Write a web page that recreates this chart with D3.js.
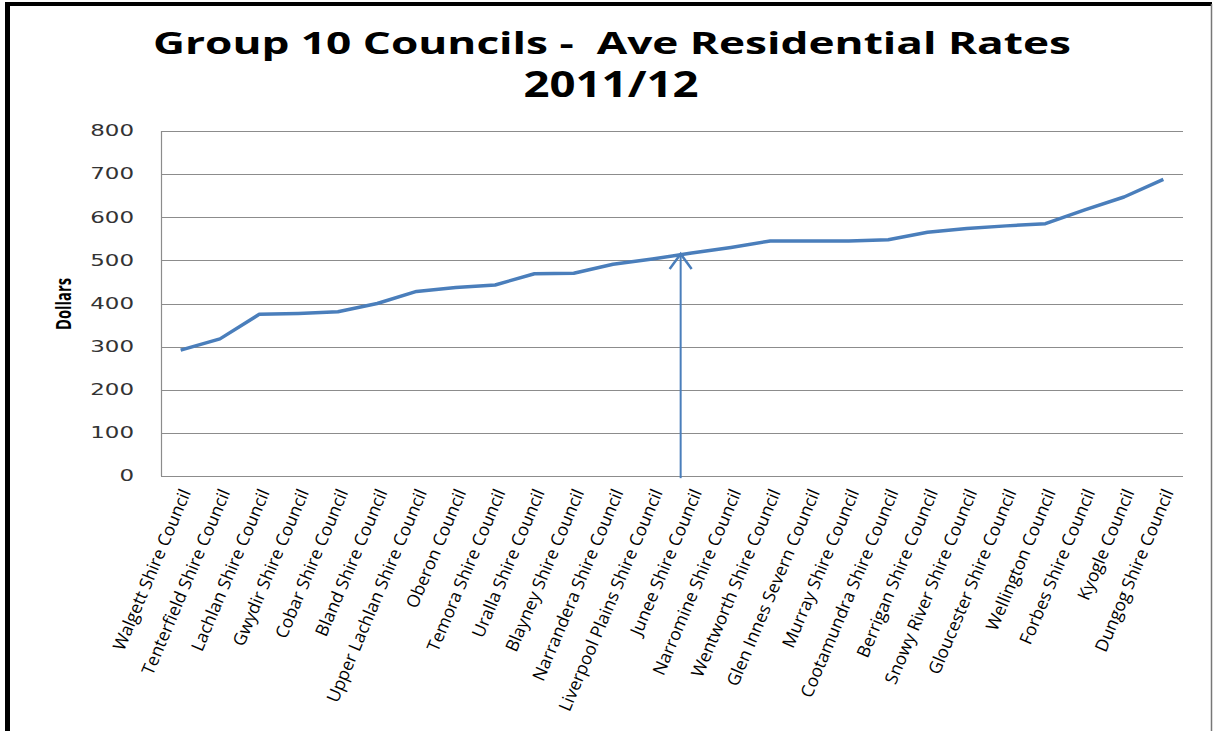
<!DOCTYPE html>
<html>
<head>
<meta charset="utf-8">
<script src="https://cdn.jsdelivr.net/npm/d3@7"></script>
<style>
  html, body { margin: 0; padding: 0; background: #fff; }
  svg { display: block; }
  text { white-space: pre; }
</style>
</head>
<body>
<svg id="chart" width="1213" height="731"></svg>
<script>
// ---- data ----
const councils = [
  "Walgett Shire Council", "Tenterfield Shire Council", "Lachlan Shire Council",
  "Gwydir Shire Council", "Cobar Shire Council", "Bland Shire Council",
  "Upper Lachlan Shire Council", "Oberon Council", "Temora Shire Council",
  "Uralla Shire Council", "Blayney Shire Council", "Narrandera Shire Council",
  "Liverpool Plains Shire Council", "Junee Shire Council", "Narromine Shire Council",
  "Wentworth Shire Council", "Glen Innes Severn Council", "Murray Shire Council",
  "Cootamundra Shire Council", "Berrigan Shire Council", "Snowy River Shire Council",
  "Gloucester Shire Council", "Wellington Council", "Forbes Shire Council",
  "Kyogle Council", "Dungog Shire Council"
];
const avgRates = [
  292, 318, 375, 377, 381, 400, 428, 437, 443, 469, 470, 491, 503,
  517, 530, 545, 545, 545, 548, 565, 574, 580, 585, 617, 647, 688
];
const yTicks = [0, 100, 200, 300, 400, 500, 600, 700, 800];
const titleLines = ["Group 10 Councils -  Ave Residential Rates", "2011/12"];
const yAxisTitle = "Dollars";
// arrow annotation: fractional category position and value of its tip
const arrowPos = [12.72];
const arrowValues = [-5, 515];

// ---- layout ----
const svg = d3.select("#chart");
const plot = { left: 161, right: 1183, top: 131, bottom: 476 };
const blue = "#4a7ebb";

// frame
svg.append("rect").attr("x", 0).attr("y", 0).attr("width", 1213).attr("height", 731).attr("fill", "#fff");
svg.append("rect").attr("x", 5).attr("y", 2).attr("width", 1207).attr("height", 4).attr("fill", "#000");
svg.append("rect").attr("x", 5).attr("y", 2).attr("width", 5).attr("height", 729).attr("fill", "#000");
svg.append("line").attr("x1", 1211.5).attr("x2", 1211.5).attr("y1", 4).attr("y2", 731)
  .attr("stroke", "#777").attr("stroke-width", 1.5);

// title
svg.append("text")
  .attr("x", 612).attr("y", 54)
  .attr("text-anchor", "middle")
  .attr("font-family", "Open Sans").attr("font-weight", "bold")
  .attr("font-size", 30)
  .attr("textLength", 918).attr("lengthAdjust", "spacingAndGlyphs")
  .text(titleLines[0]);
svg.append("text")
  .attr("x", 611).attr("y", 97)
  .attr("text-anchor", "middle")
  .attr("font-family", "Open Sans").attr("font-weight", "bold")
  .attr("font-size", 35)
  .attr("textLength", 175).attr("lengthAdjust", "spacingAndGlyphs")
  .text(titleLines[1]);

// scales
const x = d3.scalePoint().domain(councils).range([plot.left, plot.right]).padding(0.5);
const xIdx = d3.scaleLinear().domain([0, councils.length - 1])
  .range([x(councils[0]), x(councils[councils.length - 1])]);
const y = d3.scaleLinear().domain([0, 800]).range([plot.bottom, plot.top]);

// gridlines
svg.append("g").selectAll("line").data(yTicks).join("line")
  .attr("x1", plot.left).attr("x2", plot.right)
  .attr("y1", d => Math.round(y(d)) + 0.5).attr("y2", d => Math.round(y(d)) + 0.5)
  .attr("stroke", "#8c8c8c").attr("stroke-width", 1.2);

// left axis line
svg.append("line")
  .attr("x1", plot.left + 0.5).attr("x2", plot.left + 0.5)
  .attr("y1", plot.top).attr("y2", plot.bottom)
  .attr("stroke", "#8c8c8c").attr("stroke-width", 1.2);

// y tick labels
const yAxis = d3.axisLeft(y).tickValues(yTicks).tickSize(0).tickPadding(27);
const gy = svg.append("g").attr("transform", `translate(${plot.left},0)`).call(yAxis);
gy.select(".domain").remove();
gy.selectAll("text")
  .attr("font-family", "DejaVu Sans").attr("font-size", 15)
  .attr("fill", "#333")
  .attr("textLength", d => String(d).length * 14.6)
  .attr("lengthAdjust", "spacingAndGlyphs");

// y axis title
svg.append("text")
  .attr("transform", "translate(71,304) rotate(-90)")
  .attr("text-anchor", "middle")
  .attr("font-family", "Open Sans").attr("font-weight", "bold")
  .attr("font-size", 21)
  .attr("textLength", 52).attr("lengthAdjust", "spacingAndGlyphs")
  .text(yAxisTitle);

// x labels
svg.append("g").selectAll("text").data(councils).join("text")
  .attr("transform", d => `translate(${x(d) + 5},${plot.bottom + 14}) rotate(-67)`)
  .attr("text-anchor", "end")
  .attr("dy", "0.35em")
  .attr("font-family", "Open Sans").attr("font-size", 17.5)
  .attr("fill", "#000")
  .text(d => d);

// line
const line = d3.line().x((d, i) => x(councils[i])).y(d => y(d));
svg.append("path").datum(avgRates)
  .attr("d", line)
  .attr("fill", "none").attr("stroke", blue)
  .attr("stroke-width", 3.5).attr("stroke-linejoin", "round");

// arrow annotation
const ax = xIdx(arrowPos[0]);
const tipY = y(arrowValues[1]);
svg.append("line")
  .attr("x1", ax).attr("x2", ax)
  .attr("y1", y(arrowValues[0])).attr("y2", tipY)
  .attr("stroke", blue).attr("stroke-width", 2);
svg.append("path")
  .attr("d", d3.line()([[ax - 11, tipY + 15], [ax, tipY], [ax + 11, tipY + 15]]))
  .attr("fill", "none").attr("stroke", blue).attr("stroke-width", 2.5);
</script>
</body>
</html>
